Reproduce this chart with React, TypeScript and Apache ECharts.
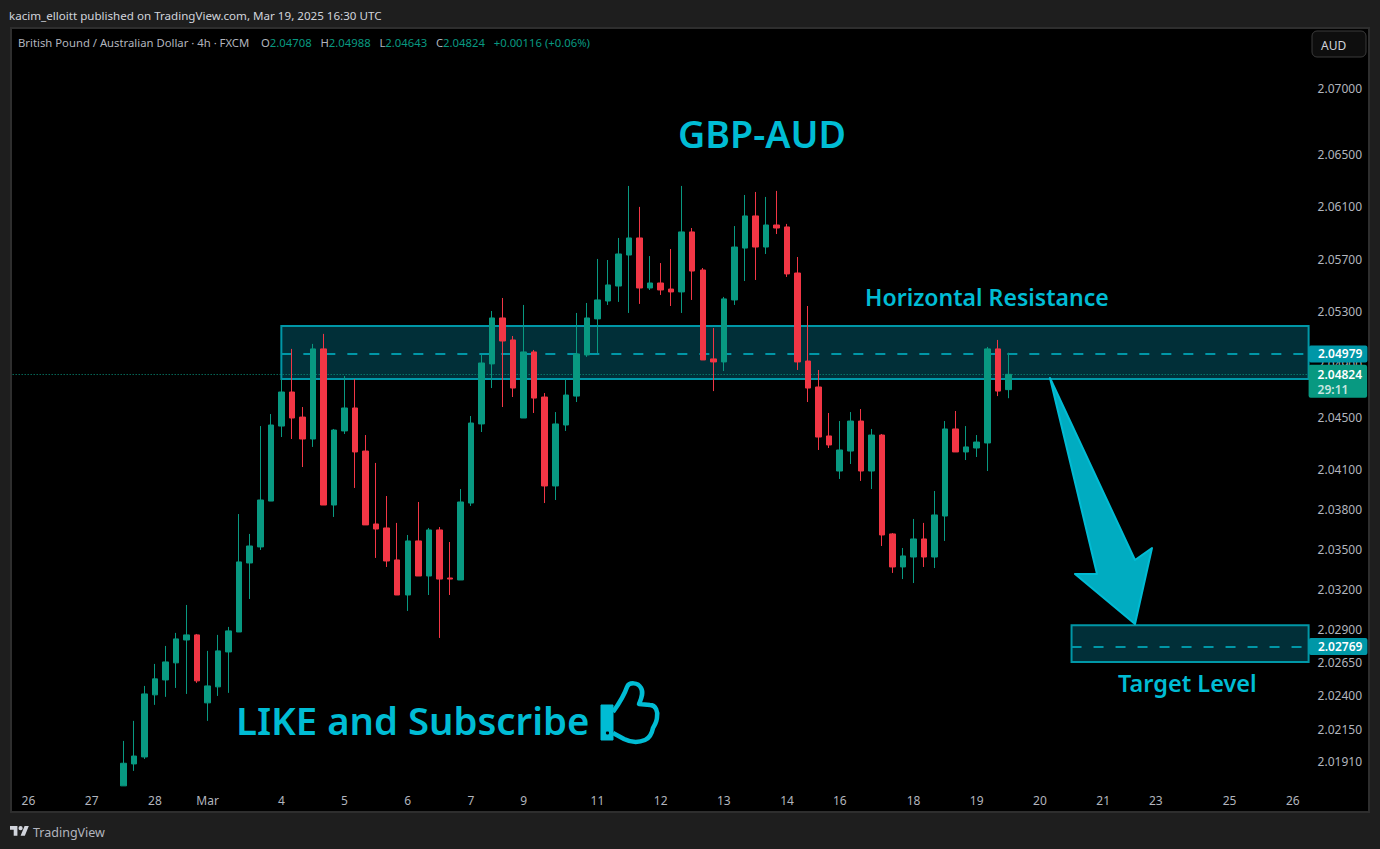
import React, { useEffect, useRef } from 'react';
import * as echarts from 'echarts';

// GBP/AUD 4h candles, oldest first
const opens = [2.01726,2.0189,2.01942,2.02407,2.02519,2.02647,2.02819,2.02857,2.02347,2.02467,2.02729,2.02879,2.03398,2.03519,2.03865,2.04432,2.0469,2.045,2.04334,2.05017,2.03835,2.04395,2.04569,2.04243,2.03692,2.03662,2.03421,2.03157,2.03564,2.033,2.03647,2.03285,2.0327,2.0385,2.04448,2.04903,2.05252,2.05085,2.04493,2.04994,2.04652,2.03979,2.0444,2.04659,2.04971,2.05245,2.05381,2.05495,2.05731,2.05861,2.0548,2.05518,2.05472,2.0545,2.05907,2.05617,2.04941,2.04918,2.05389,2.05784,2.06029,2.05792,2.0596,2.05945,2.05594,2.04925,2.04728,2.04357,2.04092,2.04243,2.0447,2.04092,2.04364,2.03617,2.03368,2.03443,2.03579,2.03443,2.03752,2.0441,2.04236,2.04266,2.04304,2.05017,2.04708];
const closes = [2.01895,2.01949,2.02414,2.02527,2.02654,2.02827,2.02857,2.02512,2.02474,2.02737,2.02887,2.03406,2.03526,2.03873,2.0444,2.0469,2.04493,2.04334,2.05017,2.03835,2.04402,2.04569,2.04236,2.03685,2.03654,2.03413,2.03157,2.03564,2.033,2.03647,2.03277,2.03277,2.03858,2.04455,2.0491,2.05252,2.05077,2.0472,2.04994,2.04644,2.03979,2.04448,2.04667,2.04979,2.05252,2.05389,2.05503,2.05739,2.05861,2.0548,2.05518,2.05465,2.0545,2.05907,2.05609,2.04933,2.04918,2.05397,2.05792,2.06029,2.05792,2.0596,2.05937,2.05587,2.04918,2.0472,2.04349,2.04289,2.04251,2.0447,2.04092,2.04364,2.03609,2.03368,2.03451,2.03579,2.03443,2.0376,2.0441,2.04236,2.04274,2.04311,2.05017,2.04697,2.04824];
const lows = [2.01726,2.01838,2.01927,2.02332,2.02392,2.02459,2.02414,2.02497,2.02212,2.02399,2.02422,2.02879,2.03127,2.03496,2.03865,2.04349,2.04334,2.04122,2.04274,2.03835,2.03745,2.04372,2.03964,2.03685,2.03436,2.03368,2.03157,2.03037,2.033,2.03157,2.02834,2.03157,2.0327,2.03828,2.04387,2.0472,2.04576,2.04652,2.04493,2.04531,2.0385,2.03873,2.04395,2.04614,2.04956,2.04986,2.05351,2.05374,2.0529,2.05359,2.05465,2.05427,2.05343,2.0529,2.05389,2.04933,2.04697,2.04849,2.05351,2.05533,2.05541,2.05739,2.05891,2.05564,2.04857,2.04614,2.04251,2.04266,2.04032,2.04145,2.04017,2.03956,2.03526,2.03323,2.03277,2.03247,2.03368,2.0336,2.03564,2.04236,2.04175,2.04198,2.04092,2.04659,2.04643];
const highs = [2.02062,2.02212,2.02474,2.02639,2.02774,2.02872,2.03082,2.02864,2.02737,2.02857,2.02917,2.03767,2.03617,2.04432,2.04523,2.04789,2.05017,2.04576,2.05055,2.05131,2.0441,2.04811,2.04789,2.04364,2.04153,2.03903,2.037,2.03609,2.03858,2.03662,2.03669,2.03556,2.03956,2.04508,2.04971,2.05305,2.05404,2.05115,2.05351,2.05009,2.04682,2.04538,2.04789,2.0529,2.05366,2.05701,2.05693,2.05861,2.06258,2.06098,2.05723,2.0567,2.05777,2.06258,2.05937,2.05632,2.05176,2.05412,2.05952,2.06189,2.06212,2.06174,2.0622,2.05968,2.05716,2.05343,2.04857,2.04531,2.0447,2.04538,2.04561,2.0441,2.04372,2.03624,2.03511,2.0373,2.037,2.03941,2.0447,2.04546,2.04432,2.04364,2.05032,2.05085,2.04988];

// the time axis runs on past the last candle, one slot per 4h bar
const slotCount = 123;
const firstCandleSlot = 10;
const dayLabels = ['26','27','28','Mar','4','5','6','7','9','11','12','13','14','16','18','19','20','21','23','25','26'];
const daySlots = [1,7,13,18,25,31,37,43,48,55,61,67,73,78,85,91,97,103,108,115,121];

const priceTicks = [2.07,2.065,2.061,2.057,2.053,2.049,2.045,2.041,2.038,2.035,2.032,2.029,2.0265,2.024,2.0215,2.0191];

const lastClose = 2.04824;
const resistanceZone = [2.05191, 2.04789];
const resistanceMid = 2.04979;
const targetZone = [2.0293, 2.02654];
const targetMid = 2.02769;
const zoneStartSlot = 25;
const targetStartSlot = 100;

const UP = '#089981';
const DOWN = '#F23645';
const TEAL = '#0097A7';
const ZONE = '#012F38';
const CYAN = '#00BCD4';
const FONT = '"Noto Sans", sans-serif';

const categories = Array.from({ length: slotCount }, (_, s) => {
  const k = daySlots.indexOf(s);
  return k >= 0 ? dayLabels[k] : '';
});
const candles = categories.map((_, s) => {
  const i = s - firstCandleSlot;
  return i >= 0 && i < opens.length ? [opens[i], closes[i], lows[i], highs[i]] : ['-', '-', '-', '-'];
});

const priceTag = (text: string) => ({
  show: true,
  position: 'end',
  distance: 5.6,
  formatter: text,
  color: '#fff',
  fontFamily: FONT,
  fontSize: 12,
  fontWeight: 600,
  backgroundColor: TEAL,
  borderRadius: 2,
  padding: [3, 5, 2, 9],
});

const midLine = (slot: number, value: number, text: string) => [
  { xAxis: slot, yAxis: value, lineStyle: { color: TEAL, width: 2, type: [10, 12] }, label: priceTag(text) },
  { xAxis: slotCount - 1, yAxis: value },
];

const THUMB = 'M613 712C618 705 624 696 627 687C629 682 638 682 641 688C644 693 641 699 639 704L650 705C656 705 658 712 657 717C657 722 654 726 653 728C652 733 650 738 645 740C638 743 630 742 624 739L613 733';
const CUFF = 'M601 705L613 705L613 740L601 740Z';
const TV_LOGO = 'M14 22H7V11H0V4h14v18zM28 22h-8l7.5-18h8L28 22zM20 12a4 4 0 1 0 0-8 4 4 0 0 0 0 8z';
echarts.graphic.registerShape('thumbOutline', echarts.graphic.extendPath(THUMB, {}));
echarts.graphic.registerShape('thumbCuff', echarts.graphic.extendPath(CUFF, {}));
echarts.graphic.registerShape('tvLogo', echarts.graphic.extendPath(TV_LOGO, {}));

const label = (text: string, x: number, y: number, fontSize: number, extra: any = {}) => ({
  type: 'text',
  x,
  y,
  z: 20,
  silent: true,
  style: { text, fontFamily: FONT, fontSize, fill: CYAN, fontWeight: 600, textVerticalAlign: 'middle', ...extra },
});

export default function App() {
  const ref = useRef<HTMLDivElement>(null);

  useEffect(() => {
    if (!ref.current) return;
    const chart = echarts.init(ref.current, null, { renderer: 'svg' });
    chart.setOption({
      animation: false,
      backgroundColor: '#1E1E1E',
      grid: { left: 12.67, top: 28, width: 1295.93, height: 758 },
      xAxis: {
        type: 'category',
        data: categories,
        boundaryGap: true,
        axisLine: { show: false },
        axisTick: { show: false },
        splitLine: { show: false },
        axisLabel: { interval: 0, color: '#B2B5BE', fontFamily: FONT, fontSize: 12, margin: 8 },
      },
      yAxis: {
        type: 'log',
        position: 'right',
        min: 2.01725,
        max: 2.07468,
        axisLine: { show: false },
        axisTick: { show: false },
        splitLine: { show: false },
        axisLabel: {
          color: '#B2B5BE',
          fontFamily: FONT,
          fontSize: 12,
          margin: 9,
          customValues: priceTicks,
          formatter: (v: number) => v.toFixed(5),
        },
      },
      series: [
        {
          type: 'candlestick',
          data: candles,
          barWidth: 6,
          itemStyle: { color: UP, color0: DOWN, borderColor: UP, borderColor0: DOWN, borderWidth: 1 },
          markArea: {
            z: 1,
            silent: true,
            itemStyle: { color: ZONE, borderColor: TEAL, borderWidth: 2, opacity: 1 },
            data: [
              [{ xAxis: zoneStartSlot, yAxis: resistanceZone[0] }, { yAxis: resistanceZone[1] }],
              [{ xAxis: targetStartSlot, yAxis: targetZone[0] }, { yAxis: targetZone[1] }],
            ],
          },
          markLine: {
            z: 1,
            silent: true,
            symbol: 'none',
            precision: 5,
            data: [
              midLine(zoneStartSlot, resistanceMid, '2.04979'),
              midLine(targetStartSlot, targetMid, '2.02769'),
              {
                yAxis: lastClose,
                lineStyle: { color: UP, width: 1, type: [1, 2] },
                label: {
                  ...priceTag('{p|2.04824}\n{t|29:11}'),
                  distance: 0,
                  backgroundColor: UP,
                  padding: [2, 5, 1, 9],
                  offset: [0, 7],
                  rich: {
                    p: { color: '#fff', fontFamily: FONT, fontSize: 12, fontWeight: 600, lineHeight: 15 },
                    t: { color: '#C8E6E0', fontFamily: FONT, fontSize: 12, lineHeight: 15 },
                  },
                },
              },
            ],
          },
        },
      ],
      graphic: [
        // black pane behind the plot
        { type: 'rect', z: -10, silent: true, shape: { x: 11, y: 28, width: 1358, height: 784 }, style: { fill: '#000', stroke: '#2E2E2E', lineWidth: 2 } },
        label('kacim_elloitt published on TradingView.com, Mar 19, 2025 16:30 UTC', 9, 15, 11.6, { fill: '#D1D4DC', fontWeight: 400 }),
        {
          type: 'text',
          x: 18,
          y: 42,
          z: 20,
          silent: true,
          style: {
            text: '{l|British Pound / Australian Dollar · 4h · FXCM    O}{v|2.04708}{l|   H}{v|2.04988}{l|   L}{v|2.04643}{l|   C}{v|2.04824}{v|   +0.00116 (+0.06%)}',
            textVerticalAlign: 'middle',
            rich: {
              l: { fill: '#B2B5BE', fontFamily: FONT, fontSize: 11.3 },
              v: { fill: UP, fontFamily: FONT, fontSize: 11.3 },
            },
          },
        },
        { type: 'rect', z: 20, silent: true, shape: { x: 1312, y: 31, width: 54, height: 26, r: 5 }, style: { fill: '#0E0E0E', stroke: '#3A3A3A', lineWidth: 1 } },
        label('AUD', 1321, 45, 12, { fill: '#D1D4DC', fontWeight: 400 }),
        label('GBP-AUD', 678, 133.5, 37.6),
        label('Horizontal Resistance', 865, 297, 23.05),
        label('Target Level', 1118, 683, 23.5),
        label('LIKE and Subscribe', 236, 720, 38.3),
        { type: 'thumbOutline', x: 0, y: 0, z: 20, silent: true, style: { fill: 'none', stroke: CYAN, lineWidth: 4.5, lineJoin: 'round' } },
        { type: 'thumbCuff', x: 0, y: 0, z: 20, silent: true, style: { fill: CYAN, stroke: CYAN, lineWidth: 1 } },
        { type: 'circle', z: 21, silent: true, shape: { cx: 607.5, cy: 733, r: 1.6 }, style: { fill: '#000' } },
        {
          type: 'polygon',
          z: 20,
          silent: true,
          shape: { points: [[1050, 378], [1135, 560], [1152, 548], [1135, 624], [1075, 574], [1097, 574]] },
          style: { fill: '#00ACC1', stroke: CYAN, lineWidth: 2, lineJoin: 'round' },
        },
        { type: 'tvLogo', x: 10, y: 824, scaleX: 0.53, scaleY: 0.53, z: 20, silent: true, style: { fill: '#D1D4DC' } },
        label('TradingView', 33, 832, 12.5, { fill: '#B2B5BE', fontWeight: 400 }),
      ],
    });
    return () => { chart.dispose(); };
  }, []);

  return <div ref={ref} style={{ position: 'absolute', left: 0, top: 0, width: 1380, height: 849 }} />;
}
